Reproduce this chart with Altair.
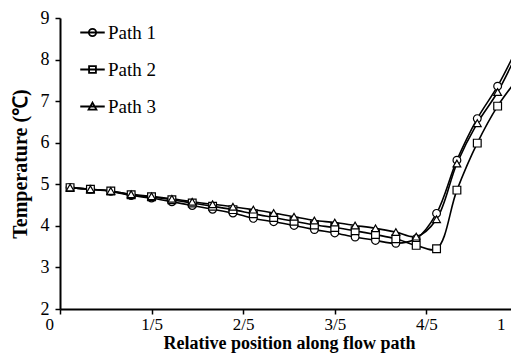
import altair as alt
import pandas as pd

n = 23
x_vals = [0.022 + i * (0.978 / 22) for i in range(n)]
path1 = [4.92, 4.88, 4.83, 4.73, 4.67, 4.58, 4.49, 4.40, 4.31, 4.18, 4.10, 4.01,
         3.91, 3.83, 3.73, 3.65, 3.58, 3.69, 4.30, 5.58, 6.58, 7.36, 8.32]
path2 = [4.92, 4.88, 4.84, 4.75, 4.70, 4.63, 4.55, 4.47, 4.39, 4.29, 4.20, 4.11,
         4.02, 3.96, 3.88, 3.79, 3.69, 3.53, 3.45, 4.86, 5.99, 6.88, 7.55]
path3 = [4.92, 4.88, 4.84, 4.76, 4.71, 4.65, 4.58, 4.52, 4.46, 4.39, 4.31, 4.22,
         4.13, 4.08, 4.01, 3.94, 3.85, 3.74, 4.16, 5.50, 6.47, 7.22, 8.20]
series = ["Path 1", "Path 2", "Path 3"]
x_ticks = [0, 0.2, 0.4, 0.6, 0.8, 1]
y_ticks = [2, 3, 4, 5, 6, 7, 8, 9]

rows = []
for name, vals in zip(series, [path1, path2, path3]):
    for xv, yv in zip(x_vals, vals):
        rows.append({"x": xv, "y": yv, "series": name})
df = pd.DataFrame(rows)

FONT = "Liberation Serif"

x_enc = alt.X("x:Q", scale=alt.Scale(domain=[0, 1], nice=False),
              axis=alt.Axis(values=x_ticks, title="Relative position along flow path",
                            labelFontSize=17, titleFontSize=18,
                            labelExpr="datum.value == 0 ? '0' : datum.value == 1 ? '1' : round(datum.value*5) + '/5'",
                            labelOffset={"condition": [{"test": "datum.value == 0", "value": -15},
                                                       {"test": "datum.value == 1", "value": -13}],
                                         "value": 0}))
y_enc = alt.Y("y:Q", scale=alt.Scale(domain=[2, 9], nice=False),
              axis=alt.Axis(values=y_ticks, title="Temperature (℃)"))

lines = alt.Chart(df).mark_line(color="black", strokeWidth=1.6, interpolate="catmull-rom").encode(
    x=x_enc, y=y_enc, detail="series:N")

points = alt.Chart(df).mark_point(color="black", filled=False, size=60, strokeWidth=1.2, fill="white", fillOpacity=1).encode(
    x=x_enc, y=y_enc,
    shape=alt.Shape("series:N", scale=alt.Scale(domain=series, range=["circle", "square", "triangle-up"]), legend=None))

leg_paths = [
    "M-1,0L1,0M-0.3,0A0.3,0.3,0,1,1,0.3,0A0.3,0.3,0,1,1,-0.3,0Z",
    "M-1,0L1,0M-0.28,-0.28L0.28,-0.28L0.28,0.28L-0.28,0.28Z",
    "M-1,0L1,0M0,-0.32L0.32,0.26L-0.32,0.26Z",
]
legend_layer = alt.Chart(df).mark_point(opacity=0, filled=False, color="black").encode(
    x=x_enc, y=y_enc,
    shape=alt.Shape("series:N", scale=alt.Scale(domain=series, range=leg_paths),
                    legend=alt.Legend(title=None, orient="none", legendX=19, legendY=1,
                                      symbolSize=600, symbolOpacity=1, symbolStrokeColor="black",
                                      symbolFillColor="white", symbolStrokeWidth=1.8,
                                      labelFont=FONT, labelFontSize=19, labelColor="black",
                                      labelOffset=2, rowPadding=13)))

chart = alt.layer(lines, points, legend_layer).resolve_scale(shape="independent").properties(
    width=458, height=291,
    autosize=alt.AutoSizeParams(type="none"),
    padding={"left": 52, "top": 10, "right": -7, "bottom": 46},
).configure(font=FONT).configure_view(stroke=None).configure_axis(
    domainColor="black", domainWidth=2, tickColor="black", tickWidth=1.5, tickSize=5,
    labelFont=FONT, labelFontSize=18, labelColor="black", grid=False,
    titleFont=FONT, titleFontSize=20, titleFontWeight="bold", titleColor="black",
).configure_axisX(labelPadding=2, titlePadding=2).configure_axisY(labelPadding=6, titlePadding=10)

chart.save("out.html", embed_options={"renderer": "svg", "actions": False})
